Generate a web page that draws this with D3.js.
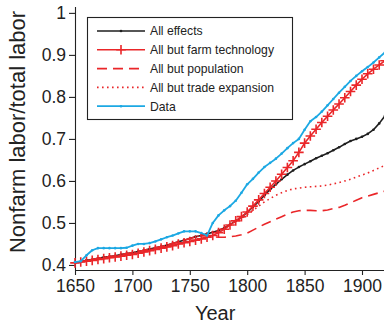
<!DOCTYPE html>
<html>
<head>
<meta charset="utf-8">
<script src="https://cdn.jsdelivr.net/npm/d3@7"></script>
<style>
  html, body { margin: 0; padding: 0; background: #fff; }
  svg { display: block; }
  text { font-family: "Liberation Sans", Arial, Helvetica, sans-serif; fill: #222; }
</style>
</head>
<body>
<svg id="chart" width="384" height="329"></svg>
<script>
// Years sampled every five years
const years = [1650,1655,1660,1665,1670,1675,1680,1685,1690,1695,1700,1705,1710,1715,1720,1725,1730,1735,1740,1745,1750,1755,1760,1765,1770,1775,1780,1785,1790,1795,1800,1805,1810,1815,1820,1825,1830,1835,1840,1845,1850,1855,1860,1865,1870,1875,1880,1885,1890,1895,1900,1905,1910,1915,1920];

// Model: all effects
const allEffects = [0.406,0.408,0.411,0.413,0.416,0.418,0.420,0.422,0.425,0.427,0.429,0.432,0.435,0.438,0.441,0.444,0.447,0.451,0.455,0.459,0.463,0.467,0.470,0.474,0.478,0.482,0.488,0.496,0.505,0.514,0.525,0.538,0.551,0.566,0.580,0.592,0.604,0.615,0.625,0.633,0.640,0.647,0.654,0.660,0.666,0.673,0.680,0.688,0.695,0.700,0.705,0.712,0.722,0.737,0.755];

// Model: all but farm technology
const butFarmTech = [0.405,0.407,0.409,0.411,0.413,0.415,0.417,0.419,0.421,0.423,0.425,0.428,0.431,0.434,0.437,0.440,0.443,0.446,0.450,0.453,0.456,0.459,0.462,0.466,0.470,0.477,0.485,0.495,0.505,0.515,0.526,0.540,0.555,0.570,0.585,0.600,0.616,0.632,0.648,0.668,0.690,0.707,0.723,0.739,0.754,0.769,0.783,0.798,0.813,0.828,0.842,0.855,0.866,0.876,0.886];

// Model: all but population
const butPopulation = [0.406,0.408,0.411,0.413,0.416,0.418,0.420,0.422,0.425,0.427,0.429,0.432,0.435,0.438,0.441,0.444,0.447,0.451,0.455,0.459,0.463,0.467,0.470,0.469,0.467,0.466,0.466,0.467,0.469,0.472,0.476,0.483,0.490,0.497,0.503,0.509,0.515,0.521,0.526,0.529,0.530,0.530,0.529,0.529,0.531,0.534,0.537,0.542,0.548,0.554,0.560,0.564,0.568,0.572,0.576];

// Model: all but trade expansion
const butTrade = [0.406,0.408,0.411,0.413,0.416,0.418,0.420,0.422,0.425,0.427,0.429,0.432,0.435,0.438,0.441,0.444,0.447,0.451,0.455,0.459,0.463,0.467,0.470,0.474,0.478,0.482,0.488,0.494,0.502,0.510,0.520,0.530,0.540,0.550,0.558,0.566,0.572,0.577,0.581,0.583,0.585,0.586,0.587,0.588,0.590,0.593,0.596,0.600,0.604,0.609,0.614,0.619,0.625,0.631,0.637];

// Observed data
const observed = [0.407,0.409,0.423,0.435,0.440,0.440,0.440,0.440,0.440,0.441,0.446,0.450,0.450,0.452,0.456,0.461,0.466,0.470,0.475,0.480,0.480,0.480,0.476,0.470,0.500,0.518,0.530,0.540,0.553,0.572,0.592,0.605,0.620,0.633,0.643,0.653,0.665,0.678,0.690,0.700,0.722,0.742,0.752,0.765,0.780,0.795,0.810,0.824,0.838,0.850,0.861,0.871,0.882,0.894,0.906];

const xTicks = [1650, 1700, 1750, 1800, 1850, 1900];
const yTicks = [0.4, 0.5, 0.6, 0.7, 0.8, 0.9, 1];

const RED = "#ea2629", BLUE = "#1ca8e3", BLACK = "#1e1e1e";

const series = [
  { name: "All effects", values: allEffects, color: BLACK, width: 1.6, dash: null, marker: "dot" },
  { name: "All but farm technology", values: butFarmTech, color: RED, width: 1.6, dash: null, marker: "plus" },
  { name: "All but population", values: butPopulation, color: RED, width: 1.6, dash: "10,6", marker: null },
  { name: "All but trade expansion", values: butTrade, color: RED, width: 1.6, dash: "1.6,3.4", marker: null },
  { name: "Data", values: observed, color: BLUE, width: 1.8, dash: null, marker: "dot" }
];

const svg = d3.select("#chart");
const plotLeft = 75, plotBottom = 270, plotTop = 7;

const x = d3.scaleLinear().domain([1650, 1920]).range([plotLeft, plotLeft + 270 * 1.148]);
const y = d3.scaleLinear().domain([0.388, 1.014]).range([plotBottom, plotTop]);

// Axes
const xAxis = d3.axisBottom(x).tickValues(xTicks).tickFormat(d3.format("d")).tickSize(5).tickPadding(5);
const yAxis = d3.axisLeft(y).tickValues(yTicks).tickFormat(d => d === 1 ? "1" : d3.format(".1f")(d)).tickSize(6).tickPadding(3);

const gx = svg.append("g").attr("transform", `translate(0,${plotBottom})`).call(xAxis);
gx.select(".domain").attr("d", `M${plotLeft},0.5H${384}`);
const gy = svg.append("g").attr("transform", `translate(${plotLeft},0)`).call(yAxis);
gy.select(".domain").attr("d", `M0.5,${plotTop}V${plotBottom}`);

[gx, gy].forEach(g => {
  g.selectAll(".domain").attr("stroke", "#222").attr("stroke-width", 1.1);
  g.selectAll(".tick line").attr("stroke", "#222").attr("stroke-width", 1.1);
  g.selectAll(".tick text").attr("font-size", 17.5).attr("fill", "#222")
    .attr("font-family", "'Liberation Sans', Arial, Helvetica, sans-serif");
});

// Axis titles
svg.append("text")
  .attr("x", x(1800) - 32).attr("y", 320)
  .attr("text-anchor", "middle").attr("font-size", 20)
  .text("Year");

svg.append("text")
  .attr("transform", `translate(25,132) rotate(-90)`)
  .attr("text-anchor", "middle").attr("font-size", 22)
  .text("Nonfarm labor/total labor");

// Curves
const plot = svg.append("g");
const line = d3.line().x((d, i) => x(years[i])).y(d => y(d));

function drawMarker(g, kind, px, py, color) {
  if (kind === "dot") {
    g.append("circle").attr("cx", px).attr("cy", py).attr("r", 1.3).attr("fill", color);
  } else if (kind === "plus") {
    g.append("path")
      .attr("d", `M${px - 4.8},${py}H${px + 4.8}M${px},${py - 4.8}V${py + 4.8}`)
      .attr("stroke", color).attr("stroke-width", 1.6).attr("fill", "none");
  }
}

series.forEach(s => {
  const g = plot.append("g");
  g.append("path")
    .attr("d", line(s.values))
    .attr("fill", "none")
    .attr("stroke", s.color)
    .attr("stroke-width", s.width)
    .attr("stroke-dasharray", s.dash)
    .attr("stroke-linejoin", "round");
  if (s.marker) {
    s.values.forEach((v, i) => drawMarker(g, s.marker, x(years[i]), y(v), s.color));
  }
});

// Legend
const lg = svg.append("g");
const lx = 87, ly = 17, lw = 205, lh = 102;
lg.append("rect").attr("x", lx + 0.5).attr("y", ly + 0.5).attr("width", lw).attr("height", lh)
  .attr("fill", "#fff").attr("stroke", "#222").attr("stroke-width", 1.1);

series.forEach((s, i) => {
  const cy = 31 + i * 18.8;
  lg.append("line")
    .attr("x1", 97).attr("x2", 145).attr("y1", cy).attr("y2", cy)
    .attr("stroke", s.color).attr("stroke-width", s.width)
    .attr("stroke-dasharray", s.dash);
  if (s.marker) drawMarker(lg, s.marker, 121, cy, s.color);
  lg.append("text")
    .attr("x", 150).attr("y", cy + 4.3)
    .attr("font-size", 12.2)
    .text(s.name);
});
</script>
</body>
</html>
